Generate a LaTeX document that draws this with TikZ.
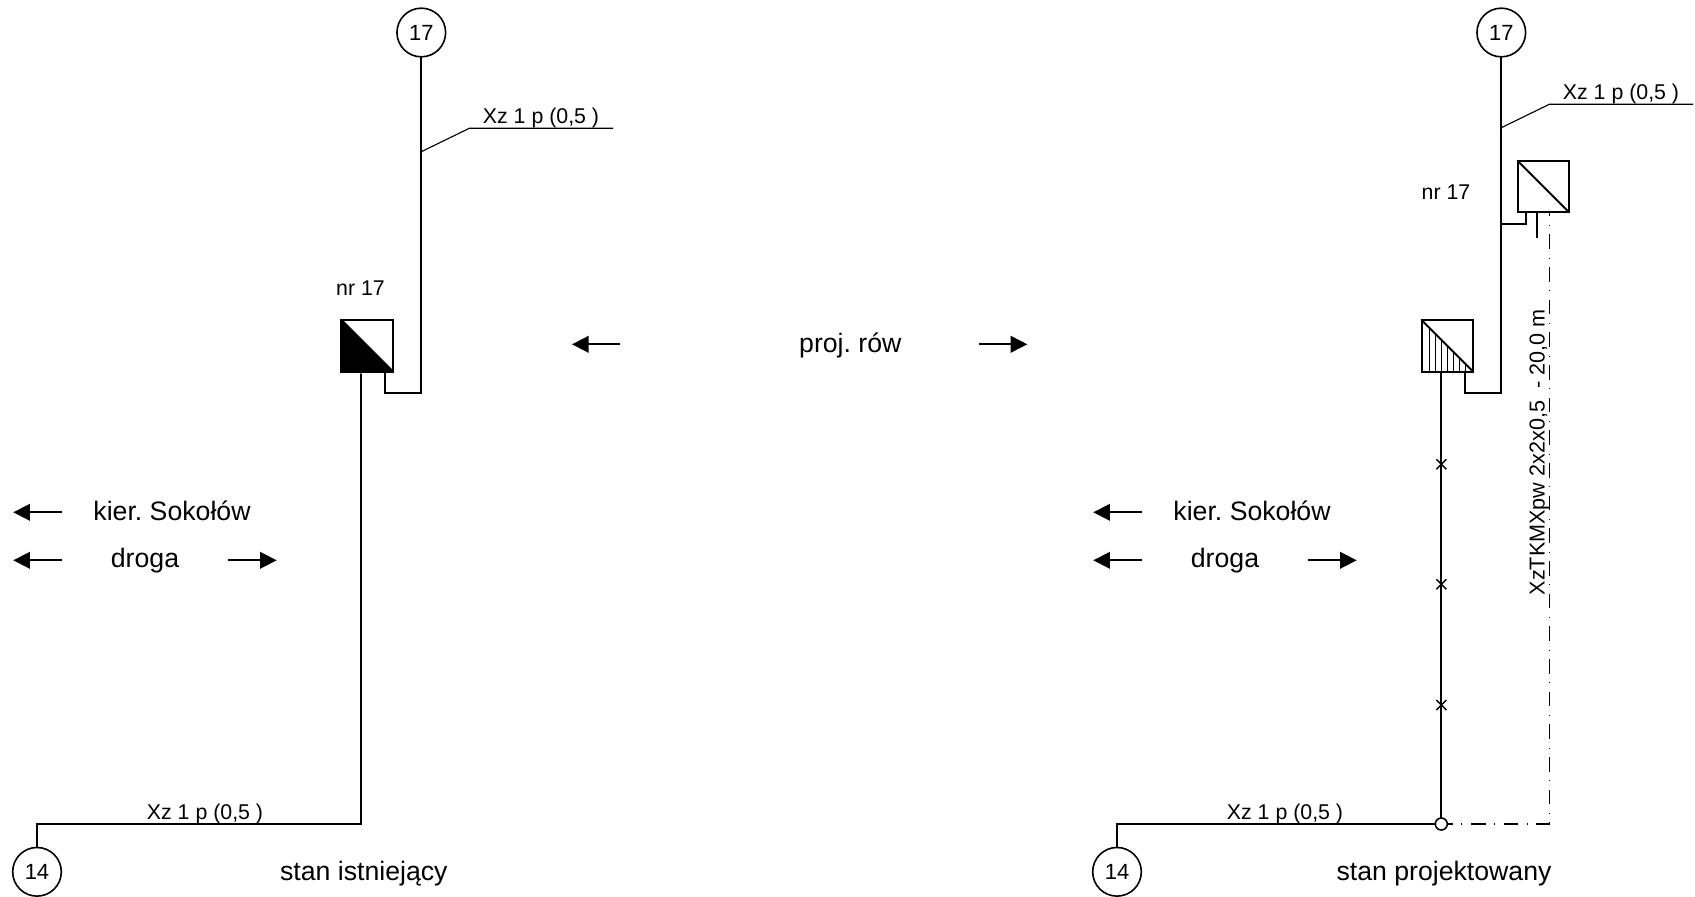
\documentclass[tikz,border=0pt]{standalone}
\usepackage{fontspec}
\setmainfont{Liberation Sans}
\usetikzlibrary{arrows.meta}
\AtBeginDocument{\frenchspacing}
\tikzset{
  wire/.style={line width=1.5pt,line cap=round,line join=miter},
  thin wire/.style={line width=0.85pt},
  tap/.style={line width=1.3pt},
  hatch/.style={line width=0.7pt},
  conduit/.style={line width=1.05pt,dash pattern=on 10.9pt off 6.4pt on 0.8pt off 6.4pt},
  dirarrow/.style={line width=1.3pt,-{Triangle[length=12.5pt,width=12.5pt]},shorten >=0pt},
  station/.style={circle,draw,line width=1.2pt,minimum size=36.5pt,inner sep=0pt,outer sep=0pt,font=\fontsize{16.5}{19}\selectfont},
  device/.style={rectangle,draw,line width=1.5pt,minimum size=38.6pt,inner sep=0pt,outer sep=0pt},
  joint/.style={circle,draw,fill=white,line width=1.2pt,minimum size=9pt,inner sep=0pt,outer sep=0pt},
  lbl/.style={anchor=base,inner sep=0pt,font=\fontsize{16}{19}\selectfont},
  biglbl/.style={anchor=base,inner sep=0pt,font=\fontsize{20}{23}\selectfont},
  cross/.style={line width=1.05pt}
}
\begin{document}
\begin{tikzpicture}[x=0.75pt,y=-0.75pt]
\useasboundingbox (0,0) rectangle (1695,896);
% ---------- left panel ----------
\node[station] (ltop) at (421.3,32.5) {17};
\node[station] (lbot) at (37,871.8) {14};
\node[device] (lbox) at (367.2,345.8) {};
\fill (lbox.north west) -- (lbox.south east) -- (lbox.south west) -- cycle;
\draw[wire] (lbox.north west) -- (lbox.south east);
\coordinate (lstub) at (385,371.3);
\coordinate (lcorner) at (385,392.5);
\coordinate (lmain) at (421.3,392.5);
\coordinate (lfeed) at (361.3,374);
\coordinate (lelbow) at (361.3,824);
\coordinate (lhead) at (37,824);
\draw[wire] (ltop.south) -- (lmain) -- (lcorner) -- (lstub);
\draw[wire] (lfeed) -- (lelbow) -- (lhead) -- (lbot.north);
\coordinate (ll1) at (421.3,151.7);
\coordinate (ll2) at (469.3,128.3);
\coordinate (ll3) at (613,128.3);
\draw[thin wire] (ll1) -- (ll2) -- (ll3);
\node[lbl] (ltxt1) at (541,123.5) {Xz 1 p (0,5 )};
\node[lbl] (lnr) at (360.5,295) {nr 17};
\node[lbl] (ltxt2) at (205,819.5) {Xz 1 p (0,5 )};
\node[biglbl] (lstan) at (363.8,880.5) {stan istniejący};
\node[biglbl] (lkier) at (172,520) {kier. Sokołów};
\node[biglbl] (ldroga) at (145,567) {droga};
\coordinate (la1) at (61.7,512.3); \coordinate (la1t) at (13.3,512.3);
\coordinate (la2) at (61.7,560.3); \coordinate (la2t) at (13.3,560.3);
\coordinate (la3) at (228.3,560.3); \coordinate (la3t) at (276.7,560.3);
\draw[dirarrow] (la1) -- (la1t);
\draw[dirarrow] (la2) -- (la2t);
\draw[dirarrow] (la3) -- (la3t);
% ---------- centre ----------
\node[biglbl] (proj) at (850.3,352.3) {proj. rów};
\coordinate (pa1) at (620,344.3); \coordinate (pa1t) at (572,344.3);
\coordinate (pa2) at (978.7,344.3); \coordinate (pa2t) at (1027.3,344.3);
\draw[dirarrow] (pa1) -- (pa1t);
\draw[dirarrow] (pa2) -- (pa2t);
% ---------- right panel ----------
\node[station] (rtop) at (1501.3,32.5) {17};
\node[station] (rbot) at (1117,871.8) {14};
\node[device] (rbox) at (1447.3,345.8) {};
\node[device] (rnew) at (1543.3,186.5) {};
\draw[wire] (rbox.north west) -- (rbox.south east);
\draw[wire] (rnew.north west) -- (rnew.south east);
\foreach \hx/\hy in {1429.3/328.5,1435.3/334.5,1441.3/340.5,1447.3/346.5,1453.3/352.5,1459.3/358.5,1465.3/364.5}{
  \draw[hatch] (\hx,\hy) -- (\hx,371.3);
}
\coordinate (rstub) at (1465.3,371.3);
\coordinate (rcorner) at (1465.3,392.5);
\coordinate (rmain) at (1501.3,392.5);
\coordinate (rfeed) at (1441.3,373);
\coordinate (rtee) at (1441.3,824);
\coordinate (rhead) at (1117,824);
\draw[wire] (rtop.south) -- (rmain) -- (rcorner) -- (rstub);
\node[joint] (rjoint) at (rtee) {};
\draw[wire] (rfeed) -- (rjoint.north);
\draw[wire] (rjoint.west) -- (rhead) -- (rbot.north);
\coordinate (rb1) at (1501.3,224.3);
\coordinate (rb2) at (1525.7,224.3);
\coordinate (rb3) at (1525.7,212.3);
\draw[tap] (rb1) -- (rb2) -- (rb3);
\coordinate (rs1) at (1537.3,212.3);
\coordinate (rs2) at (1537.3,238);
\draw[tap] (rs1) -- (rs2);
\coordinate (rd1) at (1549.3,212.3);
\coordinate (rd2) at (1549.3,824);
\draw[conduit,dash phase=7.9pt] (rd1) -- (rd2) -- (rjoint.east);
\coordinate (rl1) at (1501.3,127.7);
\coordinate (rl2) at (1549.3,104.3);
\coordinate (rl3) at (1693,104.3);
\draw[thin wire] (rl1) -- (rl2) -- (rl3);
\foreach \cy/\cn in {464.3/a,584.3/b,705/c}{
  \coordinate (rx\cn1) at (1436.3,\cy-5);
  \coordinate (rx\cn2) at (1446.3,\cy+5);
  \coordinate (rx\cn3) at (1446.3,\cy-5);
  \coordinate (rx\cn4) at (1436.3,\cy+5);
  \draw[cross] (rx\cn1) -- (rx\cn2);
  \draw[cross] (rx\cn3) -- (rx\cn4);
}
\node[lbl] (rtxt1) at (1621,99.5) {Xz 1 p (0,5 )};
\node[lbl] (rnr) at (1446,199) {nr 17};
\node[lbl] (rtxt2) at (1285,819.5) {Xz 1 p (0,5 )};
\node[biglbl] (rstan) at (1444,880.5) {stan projektowany};
\node[biglbl] (rkier) at (1252,520) {kier. Sokołów};
\node[biglbl] (rdroga) at (1225,567) {droga};
\node[inner sep=0pt,anchor=base west,rotate=90,font=\fontsize{16.2}{19}\selectfont] (rcable) at (1544.5,595.5) {XzTKMXpw 2x2x0,5\ \ - 20,0 m};
\coordinate (ra1) at (1141.7,512.3); \coordinate (ra1t) at (1093.3,512.3);
\coordinate (ra2) at (1141.7,560.3); \coordinate (ra2t) at (1093.3,560.3);
\coordinate (ra3) at (1308.3,560.3); \coordinate (ra3t) at (1356.7,560.3);
\draw[dirarrow] (ra1) -- (ra1t);
\draw[dirarrow] (ra2) -- (ra2t);
\draw[dirarrow] (ra3) -- (ra3t);
\end{tikzpicture}
\end{document}
